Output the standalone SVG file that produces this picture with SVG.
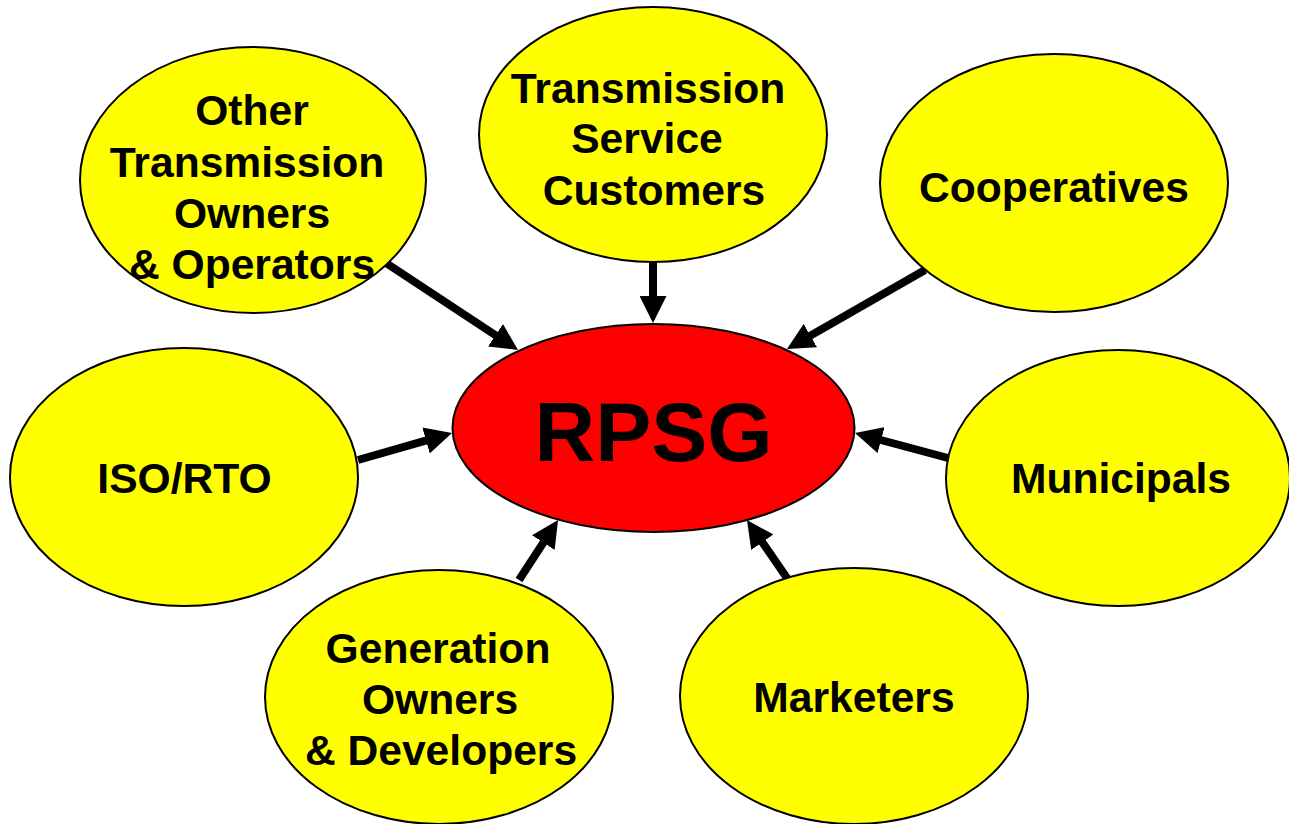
<svg xmlns="http://www.w3.org/2000/svg" width="1289" height="824" viewBox="0 0 1289 824">
<style>
.n{fill:#ffff00;stroke:#000;stroke-width:2}
.c{fill:#ff0000;stroke:#000;stroke-width:2}
.t{font-family:"Liberation Sans",Arial,sans-serif;font-weight:bold;font-size:42.6px;fill:#000;text-anchor:middle}
.big{font-size:84px}
.a{stroke:#000;stroke-width:8;fill:none}
</style>
<defs>
<marker id="ah" markerUnits="userSpaceOnUse" markerWidth="27" markerHeight="27" refX="6" refY="13.5" orient="auto">
<path d="M0,0 L27,13.5 L0,27 z" fill="#000"/>
</marker>
</defs>
<rect width="1289" height="824" fill="#fff"/>
<g id="connectors">
<line class="a" x1="386" y1="263" x2="500.5" y2="338.5" marker-end="url(#ah)"/>
<line class="a" x1="653" y1="262" x2="653" y2="302" marker-end="url(#ah)"/>
<line class="a" x1="925" y1="270" x2="805.2" y2="338.6" marker-end="url(#ah)"/>
<line class="a" x1="358" y1="460" x2="431.8" y2="438.8" marker-end="url(#ah)"/>
<line class="a" x1="948" y1="458" x2="875.3" y2="438.5" marker-end="url(#ah)"/>
<line class="a" x1="519" y1="580" x2="546.6" y2="537.6" marker-end="url(#ah)"/>
<line class="a" x1="787" y1="578" x2="758.9" y2="537.3" marker-end="url(#ah)"/>
</g>
<g id="other-to">
<ellipse class="n" cx="253" cy="180" rx="173" ry="133"/>
<text class="t" x="252" y="125">Other</text>
<text class="t" x="247" y="177">Transmission</text>
<text class="t" x="252" y="228">Owners</text>
<text class="t" x="252" y="279">&amp; Operators</text>
</g>
<g id="tsc">
<ellipse class="n" cx="653" cy="134.5" rx="174" ry="127.5"/>
<text class="t" x="648" y="103">Transmission</text>
<text class="t" x="647" y="153">Service</text>
<text class="t" x="654" y="205">Customers</text>
</g>
<g id="coop">
<ellipse class="n" cx="1054" cy="183" rx="174" ry="129"/>
<text class="t" x="1054" y="202">Cooperatives</text>
</g>
<g id="iso">
<ellipse class="n" cx="184" cy="477" rx="174" ry="129"/>
<text class="t" x="184.5" y="493">ISO/RTO</text>
</g>
<g id="rpsg">
<ellipse class="c" cx="653.5" cy="428" rx="201" ry="104"/>
<text class="t big" x="653.5" y="461">RPSG</text>
</g>
<g id="muni">
<ellipse class="n" cx="1118" cy="478" rx="172" ry="128"/>
<text class="t" x="1121" y="493">Municipals</text>
</g>
<g id="gen">
<ellipse class="n" cx="439" cy="697" rx="174" ry="127"/>
<text class="t" x="438" y="663">Generation</text>
<text class="t" x="440" y="714">Owners</text>
<text class="t" x="441" y="765">&amp; Developers</text>
</g>
<g id="mkt">
<ellipse class="n" cx="854" cy="696" rx="174" ry="128"/>
<text class="t" x="854" y="712">Marketers</text>
</g>
</svg>
